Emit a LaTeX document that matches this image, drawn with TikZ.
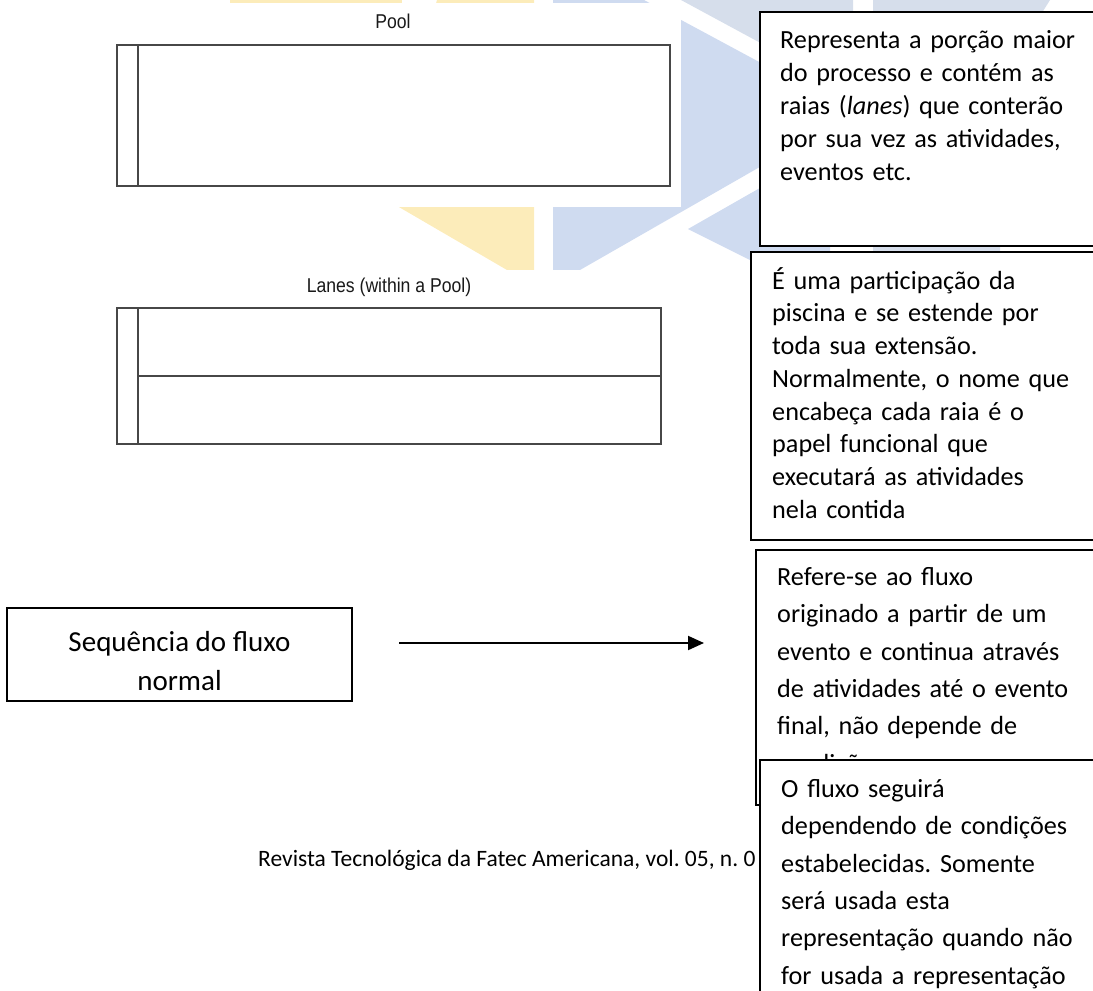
\documentclass[tikz,border=0pt]{standalone}
\usepackage{fontspec}
\setmainfont{Carlito}
\newfontfamily\arialfont{Liberation Sans}
\usetikzlibrary{arrows.meta}
\definecolor{logoyellow}{RGB}{252,236,186}
\definecolor{logoblue}{RGB}{207,219,240}
\definecolor{logogrey}{RGB}{214,222,235}
\frenchspacing
\tikzset{
  poolline/.style={draw=black!72, line width=1.4pt},
  bpmnlabel/.style={font=\arialfont\fontsize{20}{22}\selectfont, text=black!90, inner sep=0pt, anchor=base},
  notebox/.style={draw=black, line width=2pt, fill=white},
  notetext/.style={inner sep=0pt, anchor=north west, align=left, text width=330pt},
  flowarrow/.style={line width=2pt, -{Triangle[length=16pt,width=14pt]}}
}
\begin{document}
\begin{tikzpicture}[x=1pt,y=-1pt]
    \useasboundingbox (0,0) rectangle (1093,991);
    \clip (0,0) rectangle (1093,991);
    \fill[logoyellow] (230,0) rectangle (402,3);
    \fill[logoyellow] (437,0) -- (534,0) -- (534,270) -- (507,270) -- (380,196) -- cycle;
    \fill[logoblue] (553,-49) -- (854,113) -- (580,270) -- (553,270) -- cycle;
    \fill[logoblue] (688,229) -- (830,148) -- (830,300) -- cycle;
    \fill[logogrey] (681,0) -- (853,0) -- (853,93) -- cycle;
    \fill[logogrey] (873,0) -- (1050,0) -- (1000,80) -- (1000,300) -- (873,300) -- cycle;
    \fill[white] (0,3) rectangle (681,207);
    \fill[white] (0,270) rectangle (751,991);

    \node[bpmnlabel] (poollabel) at (393,28) {\scalebox{0.88}[1]{Pool}};
    \draw[poolline] (117,45) rectangle (670,186);
    \draw[poolline] (138,45) -- (138,186);

    \node[bpmnlabel] (laneslabel) at (389,292) {\scalebox{0.88}[1]{Lanes (within a Pool)}};
    \draw[poolline] (117,308) rectangle (661,444);
    \draw[poolline] (138,308) -- (138,444);
    \draw[poolline] (138,376) -- (661,376);

    \draw[notebox] (760,12) rectangle (1110,246);
    \node[notetext, font=\fontsize{26.2}{33}\selectfont] (pooltext) at (780,26)
        {\rule{0pt}{22pt}Representa a porção maior\\do processo e contém as\\raias (\textit{lanes}) que conterão\\por sua vez as atividades,\\eventos etc.};

    \draw[notebox] (751,252) rectangle (1110,540);
    \node[notetext, font=\fontsize{26.2}{32.7}\selectfont] (lanestext) at (772,267)
        {\rule{0pt}{22pt}É uma participação da\\piscina e se estende por\\toda sua extensão.\\Normalmente, o nome que\\encabeça cada raia é o\\papel funcional que\\executará as atividades\\nela contida};

    \node[draw=black, line width=1.6pt, minimum width=345pt, minimum height=93pt, align=center,
          font=\fontsize{29}{39}\selectfont] (seqbox) at (179.5,654.5) {\rule{0pt}{33pt}Sequência do fluxo\\normal};
    \coordinate (flowstart) at (399,643);
    \coordinate (flowend) at (704,643);
    \draw[flowarrow] (flowstart) -- (flowend);

    \node[inner sep=0pt, anchor=base west, font=\fontsize{23.5}{28}\selectfont] (footer) at (258,866)
        {Revista Tecnológica da Fatec Americana, vol. 05, n. 0};

    \draw[notebox] (756,550) rectangle (1110,805);
    \node[notetext, font=\fontsize{26.2}{37.4}\selectfont] (seqtext) at (777,563)
        {\rule{0pt}{22pt}Refere-se ao fluxo\\originado a partir de um\\evento e continua através\\de atividades até o evento\\final, não depende de\\condições};

    \draw[notebox] (760,760) rectangle (1110,1010);
    \node[notetext, font=\fontsize{26.2}{37.4}\selectfont] (condtext) at (781,775)
        {\rule{0pt}{22pt}O fluxo seguirá\\dependendo de condições\\estabelecidas. Somente\\será usada esta\\representação quando não\\for usada a representação};
\end{tikzpicture}
\end{document}
